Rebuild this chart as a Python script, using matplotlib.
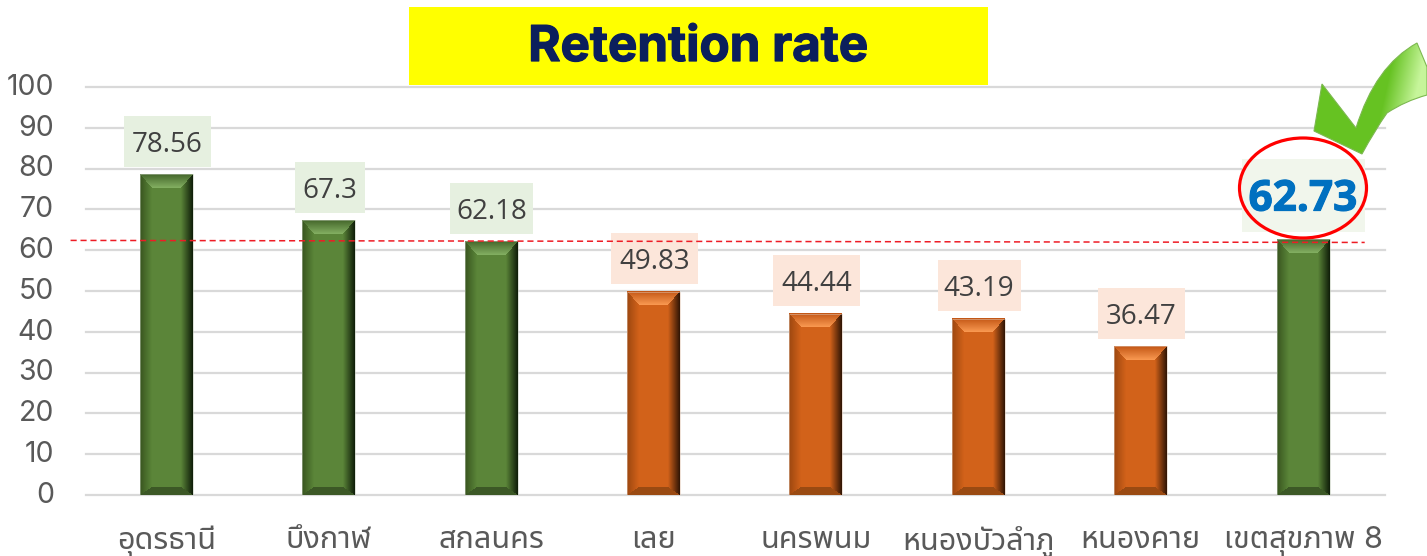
import numpy as np
import matplotlib
matplotlib.use('Agg')
import matplotlib.pyplot as plt
from matplotlib import font_manager as fm
from matplotlib import patheffects as pe
from matplotlib.patches import Rectangle, Ellipse, PathPatch
from matplotlib.path import Path
from matplotlib.colors import to_rgb
from matplotlib.ft2font import FT2Font
from matplotlib.transforms import ScaledTranslation

categories = ['อุดรธานี', 'บึงกาฬ', 'สกลนคร', 'เลย', 'นครพนม', 'หนองบัวลำภู', 'หนองคาย', 'เขตสุขภาพ 8']
values = [78.56, 67.3, 62.18, 49.83, 44.44, 43.19, 36.47, 62.73]
labels = ['78.56', '67.3', '62.18', '49.83', '44.44', '43.19', '36.47', '62.73']
yticks = [0, 10, 20, 30, 40, 50, 60, 70, 80, 90, 100]
target_line = [62.4, 61.9]
groups = ['g', 'g', 'g', 'o', 'o', 'o', 'o', 'g']
title = 'Retention rate'

# find a face that really carries Thai glyphs
thai = None
names = set()
for f in fm.fontManager.ttflist:
    try:
        if 0x0E01 in FT2Font(f.fname).get_charmap():
            names.add(f.name)
    except Exception:
        pass
for pref in ['Noto Sans Thai', 'Noto Sans Thai Looped', 'Noto Sans', 'Open Sans', 'Roboto', 'Lato', 'Inter', 'DejaVu Sans']:
    if pref in names:
        thai = pref
        break
if thai is None and names:
    thai = sorted(names)[0]
latin = 'Open Sans'
fallback = ([thai] if thai else []) + ['DejaVu Sans']
plt.rcParams['font.family'] = [latin] + fallback

W, H = 1427, 556
fig = plt.figure(figsize=(W / 100, H / 100), dpi=100)
X0, X1, Ytop, Ybot = 86, 1385, 87, 495
ax = fig.add_axes([X0 / W, 1 - Ybot / H, (X1 - X0) / W, (Ybot - Ytop) / H])
XLIM = (-0.495, 7.505)
ax.set_xlim(*XLIM)
ax.set_ylim(0, 100)
ax.patch.set_alpha(0)
for s in ax.spines.values():
    s.set_visible(False)
ax.set_axisbelow(True)
ax.yaxis.grid(True, color='#D9D9D9', lw=1.6)
for gl in ax.get_ygridlines():
    gl.set_clip_on(False)
ax.xaxis.grid(False)
ax.set_yticks(yticks)
ax.set_yticklabels([str(t) for t in yticks], fontsize=20.5, color='#595959', family=['Inter'] + fallback)
ax.tick_params(axis='y', length=0, pad=23)
shift = ScaledTranslation(0, 2 / 72, fig.dpi_scale_trans)
for lb in ax.get_yticklabels():
    lb.set_transform(lb.get_transform() + shift)
ax.set_xticks(range(len(categories)))
ax.set_xticklabels(categories, fontsize=22, color='#595959', family=['Inter'] + fallback)
ax.tick_params(axis='x', length=0, pad=22)

px_x = (X1 - X0) / 8
px_y = (Ybot - Ytop) / 100
BAR_PX = 53
bw = BAR_PX / px_x

pal = {
    'g': dict(base='#5B8539', top0='#44662A', top1='#84B062', left='#38551F', right='#0E1C08', bot='#3C5826', edge='#BCC7B4'),
    'o': dict(base='#D2621A', top0='#C25514', top1='#FA9A52', left='#9C4710', right='#2E1405', bot='#9A4A12', edge='#E0C4B0'),
}

def bevel(h, w, p):
    out = np.zeros((h, w, 3))
    base = np.array(to_rgb(p['base']))
    side, tp, bt = 12.0, 14.0, 8.0
    for r in range(h):
        for c in range(w):
            dl, dr, dt, db = c + .5, w - c - .5, r + .5, h - r - .5
            if dt < tp and dt / tp <= min(dl / side, dr / side):
                t = dt / tp
                col = (1 - t) * np.array(to_rgb(p['top0'])) + t * np.array(to_rgb(p['top1']))
            elif db < bt and db / bt <= min(dl / side, dr / side):
                col = np.array(to_rgb(p['bot']))
            elif dl < side:
                t = dl / side
                col = (1 - t) * np.array(to_rgb(p['left'])) + t * base
            elif dr < side:
                t = dr / side
                col = (1 - t) * np.array(to_rgb(p['right'])) + t * base
            else:
                col = base
            out[r, c] = col
    return out

for i, (v, g) in enumerate(zip(values, groups)):
    p = pal[g]
    img = bevel(max(int(round(v * px_y)), 1), BAR_PX, p)
    ax.imshow(img, extent=(i - bw / 2, i + bw / 2, 0, v), aspect='auto', zorder=3, interpolation='nearest')
    ax.bar(i, v, width=bw, color='none', edgecolor=p['edge'], lw=0.6, alpha=0.6, zorder=3.1)
ax.set_xlim(*XLIM)
ax.set_ylim(0, 100)

# value label boxes
for i, (v, lab, g) in enumerate(zip(values, labels, groups)):
    last = i == len(values) - 1
    bwid = 123 if last else (70 if len(lab) == 4 else 87 - 4 * lab.count('1'))
    bhei = 73 if last else 51
    gap = 7.5
    fc = '#F1F6EC' if last else ('#E6F0E0' if g == 'g' else '#FCE6DA')
    ax.add_patch(Rectangle((i + 0.005 - bwid / 2 / px_x, v + gap / px_y), bwid / px_x, bhei / px_y,
                           fc=fc, ec='none', zorder=4, clip_on=False))
    yc = v + (gap + bhei / 2) / px_y
    if last:
        ax.text(i, yc, lab, ha='center', va='center_baseline', fontsize=30.5, fontweight='bold',
                color='#0070C0', zorder=7, family='Open Sans',
                path_effects=[pe.withStroke(linewidth=0.8, foreground='#0070C0')])
    else:
        ax.text(i + 0.005, yc, lab, ha='center', va='center_baseline', fontsize=20, color='#404040', zorder=7)

# dashed reference line
ax.plot([-0.59, 7.38], target_line, color='#EE1C25', lw=1.1, ls=(0, (4, 2.5)), zorder=5, clip_on=False)

# overlay in pixel coordinates
ov = fig.add_axes([0, 0, 1, 1], zorder=10)
ov.set_xlim(0, W)
ov.set_ylim(H, 0)
ov.axis('off')
ov.add_patch(Rectangle((409, 7), 579, 78, fc='#FFFF00', ec='none'))
ov.text(698.5, 48, title, ha='center', va='center', fontsize=35.5, fontweight='bold', color='#0B1F5C',
        family='Inter', path_effects=[pe.withStroke(linewidth=0.9, foreground='#0B1F5C')])
ov.add_patch(Ellipse((1303, 188), 127, 100, fc='none', ec='#FF0000', lw=2.3, zorder=6))

verts = [(1322, 84), (1356, 128), (1375, 66), (1417, 43), (1422, 55), (1427, 67), (1427, 95),
         (1405, 101), (1387, 113), (1375, 130), (1362, 154), (1314, 131), (1322, 84)]
codes = [Path.MOVETO, Path.LINETO, Path.CURVE3, Path.CURVE3, Path.LINETO, Path.LINETO, Path.LINETO,
         Path.CURVE3, Path.CURVE3, Path.CURVE3, Path.CURVE3, Path.LINETO, Path.CLOSEPOLY]
chk = Path(verts, codes)
gy, gx = np.mgrid[30:160, 1310:1427]
t = np.clip(((gx - 1392) * 0.9 + (gy - 60) * 0.2) / 28, 0, 1)
c0, c1 = np.array(to_rgb('#66C222')), np.array(to_rgb('#C6F59A'))
grad = c0 + (c1 - c0) * t[..., None]
im = ov.imshow(grad, extent=(1310, 1427, 160, 30), aspect='auto', zorder=5)
patch = PathPatch(chk, fc='none', ec='#7CB850', lw=0.8, zorder=5.1)
ov.add_patch(patch)
im.set_clip_path(patch)
ov.set_xlim(0, W)
ov.set_ylim(H, 0)

fig.savefig('out.png', dpi=100)
